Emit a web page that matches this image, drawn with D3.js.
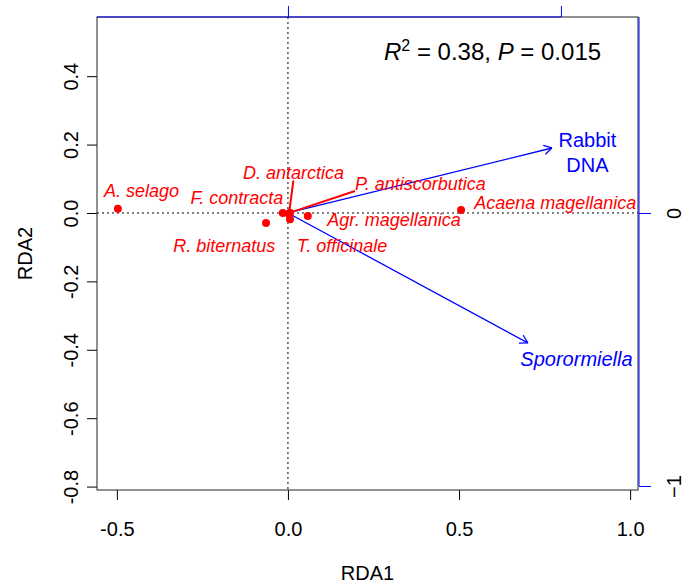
<!DOCTYPE html>
<html>
<head>
<meta charset="utf-8">
<script src="https://cdn.jsdelivr.net/npm/d3@7"></script>
<style>
	body { margin: 0; background: #fff; }
	text { font-family: "Liberation Sans", Arial, sans-serif; }
</style>
</head>
<body>
<div id="chart"></div>
<script>
"use strict";

// species scores (RDA1, RDA2)
var species = ["A. selago", "F. contracta", "D. antarctica", "P. antiscorbutica",
	"Acaena magellanica", "Agr. magellanica", "R. biternatus", "T. officinale"];
var spX = [-0.497, -0.015, 0.003, 0.006, 0.506, 0.058, -0.064, 0.006];
var spY = [0.012, 0.000, -0.003, 0.001, 0.009, -0.009, -0.029, -0.018];
// where the labels were placed (data units)
var labX = [-0.428, -0.149, 0.016, 0.387, 0.781, 0.310, -0.186, 0.158];
var labY = [0.067, 0.044, 0.117, 0.086, 0.032, -0.018, -0.096, -0.096];
var leadered = ["D. antarctica", "P. antiscorbutica"];

// explanatory variables (biplot arrows, secondary scale)
var envNames = [["Rabbit", "DNA"], ["Sporormiella"]];
var envX = [0.967, 0.879];
var envY = [0.238, -0.476];
var envLabX = [1.097, 1.057];
var envLabY = [0.267, -0.535];

var xTicks = [-0.5, 0, 0.5, 1.0];
var yTicks = [0.4, 0.2, 0, -0.2, -0.4, -0.6, -0.8];
var x2Ticks = [0, 1];
var y2Ticks = [0, -1];

var width = 683, height = 588;
var box = { left: 97, right: 638, top: 17, bottom: 490 };

var svg = d3.select("#chart").append("svg")
	.attr("width", width)
	.attr("height", height);

var x = d3.scaleLinear().domain([-0.558, 1.023]).range([box.left, box.right]);
var y = d3.scaleLinear().domain([-0.81, 0.573]).range([box.bottom, box.top]);
// arrows use their own scale (blue axes top / right)
var x2 = d3.scaleLinear().domain([(box.left - x(0)) / 273, (box.right - x(0)) / 273]).range([box.left, box.right]);
var y2 = d3.scaleLinear().domain([(y(0) - box.bottom) / 273, (y(0) - box.top) / 273]).range([box.bottom, box.top]);

var fmt = function (d) { return d.toFixed(1); };

// bottom axis
var gx = svg.append("g")
	.attr("transform", "translate(0," + box.bottom + ")")
	.call(d3.axisBottom(x).tickValues(xTicks).tickFormat(fmt).tickSize(10).tickPadding(22));
gx.select(".domain").remove();
gx.selectAll("text").style("font-size", "20px").attr("fill", "#000");

// left axis, rotated labels
var gy = svg.append("g")
	.attr("transform", "translate(" + box.left + ",0)")
	.call(d3.axisLeft(y).tickValues(yTicks).tickFormat(fmt).tickSize(10));
gy.select(".domain").remove();
gy.selectAll("text")
	.attr("x", null).attr("dy", null)
	.attr("text-anchor", "middle")
	.attr("transform", "translate(-19,0) rotate(-90)")
	.style("font-size", "20px").attr("fill", "#000");

// zero lines
svg.append("line")
	.attr("x1", x(0)).attr("x2", x(0)).attr("y1", box.top).attr("y2", box.bottom)
	.attr("stroke", "#000").attr("stroke-dasharray", "2,3");
svg.append("line")
	.attr("x1", box.left).attr("x2", box.right).attr("y1", y(0)).attr("y2", y(0))
	.attr("stroke", "#000").attr("stroke-dasharray", "2,3");

// box
svg.append("rect")
	.attr("x", box.left).attr("y", box.top)
	.attr("width", box.right - box.left).attr("height", box.bottom - box.top)
	.attr("fill", "none").attr("stroke", "#222");

// blue axes for the arrows
var blue = "#0000ff", red = "#ff0000";
var gx2 = svg.append("g")
	.attr("transform", "translate(0," + box.top + ")")
	.call(d3.axisTop(x2).tickValues(x2Ticks).tickFormat("").tickSize(11));
gx2.select(".domain").remove();
gx2.selectAll("line").attr("stroke", blue);
gx2.append("line")
	.attr("x1", box.left).attr("x2", x2(d3.max(x2Ticks)))
	.attr("stroke", blue);

var gy2 = svg.append("g")
	.attr("transform", "translate(" + (box.right + 1) + ",0)")
	.call(d3.axisRight(y2).tickValues(y2Ticks).tickFormat(d3.format("d")).tickSize(12));
gy2.select(".domain").remove();
gy2.selectAll("line").attr("stroke", blue);
gy2.append("line")
	.attr("y1", box.top).attr("y2", y2(d3.min(y2Ticks)))
	.attr("stroke", blue);
gy2.selectAll("text")
	.attr("x", null).attr("dy", null)
	.attr("text-anchor", "middle")
	.attr("transform", "translate(42,0) rotate(-90)")
	.style("font-size", "20px").attr("fill", "#000");

// axis titles
svg.append("text")
	.attr("x", (box.left + box.right) / 2).attr("y", 580)
	.attr("text-anchor", "middle").style("font-size", "20px")
	.text("RDA1");
svg.append("text")
	.attr("transform", "translate(32," + (box.top + box.bottom) / 2 + ") rotate(-90)")
	.attr("text-anchor", "middle").style("font-size", "20px")
	.text("RDA2");

// arrows
var arrowLen = 9, arrowAng = Math.PI / 6;
envNames.forEach(function (name, i) {
	var x0 = x2(0), y0 = y2(0), x1 = x2(envX[i]), y1 = y2(envY[i]);
	var a = Math.atan2(y1 - y0, x1 - x0);
	svg.append("line")
		.attr("x1", x0).attr("y1", y0).attr("x2", x1).attr("y2", y1)
		.attr("stroke", blue).attr("stroke-width", 1.3);
	[-1, 1].forEach(function (s) {
		svg.append("line")
			.attr("x1", x1).attr("y1", y1)
			.attr("x2", x1 - arrowLen * Math.cos(a + s * arrowAng))
			.attr("y2", y1 - arrowLen * Math.sin(a + s * arrowAng))
			.attr("stroke", blue).attr("stroke-width", 1.3);
	});
	var t = svg.append("text")
		.attr("text-anchor", "middle")
		.attr("fill", blue)
		.style("font-size", "20px")
		.style("font-style", name.length == 1 ? "italic" : "normal");
	name.forEach(function (line, j) {
		t.append("tspan")
			.attr("x", x2(envLabX[i]))
			.attr("y", y2(envLabY[i]) + 7 + j * 25)
			.text(line);
	});
});

// species labels + leaders
species.forEach(function (s, i) {
	var t = svg.append("text")
		.attr("x", x(labX[i])).attr("y", y(labY[i]) + 6.5)
		.attr("text-anchor", "middle")
		.attr("fill", red)
		.style("font-size", "18px").style("font-style", "italic")
		.text(s);
	if (leadered.indexOf(s) >= 0) {
		var b = t.node().getBBox();
		var px = x(spX[i]), py = y(spY[i]);
		// leader goes to the bottom of the label: middle if the point is under it, else the near corner
		var ex = (px >= b.x && px <= b.x + b.width) ? b.x + b.width / 2 : (px < b.x ? b.x : b.x + b.width),
			ey = b.y + b.height - 3;
		svg.append("line")
			.attr("x1", px).attr("y1", py).attr("x2", ex).attr("y2", ey)
			.attr("stroke", red).attr("stroke-width", 2);
	}
});

svg.selectAll("circle.sp")
	.data(species)
	.enter().append("circle")
	.attr("class", "sp")
	.attr("cx", function (d, i) { return x(spX[i]); })
	.attr("cy", function (d, i) { return y(spY[i]); })
	.attr("r", 4)
	.attr("fill", red);

// R2 / P annotation
var ann = svg.append("text")
	.attr("x", 384).attr("y", 60)
	.style("font-size", "24px");
ann.append("tspan").style("font-style", "italic").text("R");
ann.append("tspan").attr("dy", -9).style("font-size", "16px").text("2");
ann.append("tspan").attr("dy", 9).text(" = 0.38, ");
ann.append("tspan").style("font-style", "italic").text("P");
ann.append("tspan").text(" = 0.015");
</script>
</body>
</html>
